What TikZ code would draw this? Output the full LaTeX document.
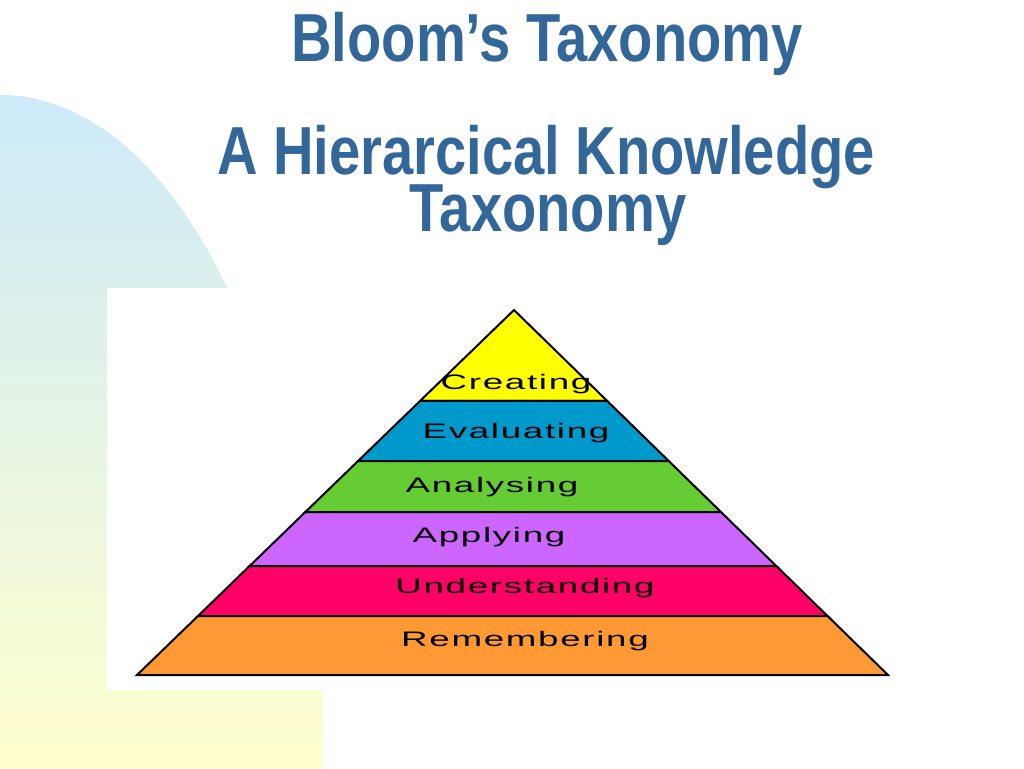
\documentclass[tikz,border=0pt]{standalone}
\usepackage{fontspec}
\usetikzlibrary{calc}
\newfontfamily\titlefont[FakeStretch=0.825]{Liberation Sans}
\newfontfamily\layerfont[FakeStretch=1.75,LetterSpace=8]{Liberation Sans}
\definecolor{bgblue}{RGB}{204,234,250}
\definecolor{bgyellow}{RGB}{255,255,205}
\definecolor{titleblue}{RGB}{51,102,153}
\definecolor{cyellow}{RGB}{255,255,0}
\definecolor{cblue}{RGB}{0,153,204}
\definecolor{cgreen}{RGB}{102,204,51}
\definecolor{cpurple}{RGB}{204,102,255}
\definecolor{cpink}{RGB}{255,0,102}
\definecolor{corange}{RGB}{255,153,51}
\begin{document}
\begin{tikzpicture}[x=1pt,y=-1pt,
  titletext/.style={font=\titlefont\fontsize{68}{68}\selectfont\bfseries, text=titleblue, anchor=base, inner sep=0pt},
  layertext/.style={font=\layerfont\fontsize{21}{21}\selectfont, text=black, anchor=base, inner sep=0pt},
  layer/.style={draw=black, line width=2pt, line join=miter}]
\useasboundingbox (0,0) rectangle (1024,768);
\fill[white] (0,0) rectangle (1024,768);
% background decoration
\shade[top color=bgblue, bottom color=bgyellow]
  (0,95) arc[start angle=-90, end angle=0, x radius=305, y radius=580]
  -- (305,690) -- (323,690) -- (323,768) -- (0,768) -- cycle;
\fill[white] (107,288) rectangle (420,690);
% pyramid
\coordinate (apex) at (514,310);
\coordinate (bl) at (137,675);
\coordinate (br) at (888,675);
\coordinate (L1) at ($(apex)!0.2493!(bl)$);
\coordinate (R1) at ($(apex)!0.2493!(br)$);
\coordinate (L2) at ($(apex)!0.4137!(bl)$);
\coordinate (R2) at ($(apex)!0.4137!(br)$);
\coordinate (L3) at ($(apex)!0.5534!(bl)$);
\coordinate (R3) at ($(apex)!0.5534!(br)$);
\coordinate (L4) at ($(apex)!0.7014!(bl)$);
\coordinate (R4) at ($(apex)!0.7014!(br)$);
\coordinate (L5) at ($(apex)!0.8384!(bl)$);
\coordinate (R5) at ($(apex)!0.8384!(br)$);
\filldraw[layer, fill=cyellow] (apex) -- (R1) -- (L1) -- cycle;
\filldraw[layer, fill=cblue] (L1) -- (R1) -- (R2) -- (L2) -- cycle;
\filldraw[layer, fill=cgreen] (L2) -- (R2) -- (R3) -- (L3) -- cycle;
\filldraw[layer, fill=cpurple] (L3) -- (R3) -- (R4) -- (L4) -- cycle;
\filldraw[layer, fill=cpink] (L4) -- (R4) -- (R5) -- (L5) -- cycle;
\filldraw[layer, fill=corange] (L5) -- (R5) -- (br) -- (bl) -- cycle;
% layer labels
\node[layertext] (creating) at (516,389) {Creating};
\node[layertext] (evaluating) at (516,438) {Evaluating};
\node[layertext] (analysing) at (492,492) {Analysing};
\node[layertext] (applying) at (489,542) {Applying};
\node[layertext] (understanding) at (525,593) {Understanding};
\node[layertext] (remembering) at (525,646) {Remembering};
% title
\node[titletext] (t1) at (547,62) {Bloom’s Taxonomy};
\node[titletext] (t2) at (546,174) {A Hierarcical Knowledge};
\node[titletext] (t3) at (548,231) {Taxonomy};
\end{tikzpicture}
\end{document}
